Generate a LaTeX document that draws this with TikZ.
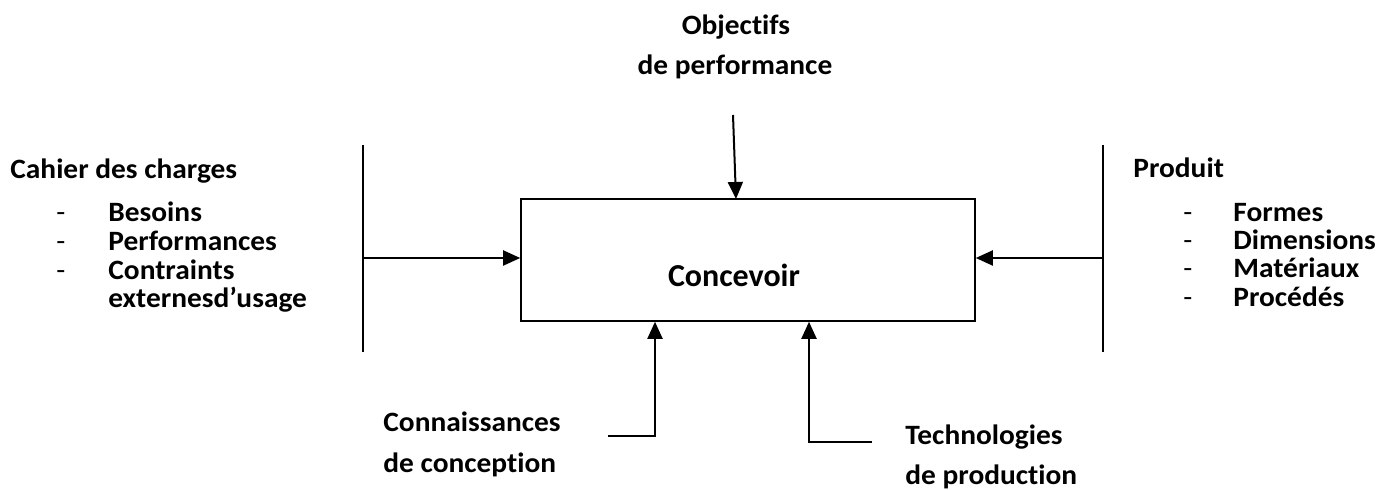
\documentclass[tikz,border=0pt]{standalone}
\usepackage{fontspec}
\setmainfont[Ligatures={NoCommon,NoContextual}]{Carlito}
\newfontfamily\lblfont[FakeStretch=1.05,Ligatures={NoCommon,NoContextual}]{Carlito}
\usetikzlibrary{arrows.meta}

\tikzset{
  lbl/.style={font=\lblfont\fontsize{14}{16}\selectfont\bfseries, inner sep=0pt},
  dashmark/.style={font=\lblfont\fontsize{14}{16}\selectfont, inner sep=0pt},
  flow/.style={line width=1pt, -{Triangle[length=8.5pt,width=7.5pt]}},
  rail/.style={line width=0.8pt}
}

\begin{document}
\begin{tikzpicture}[x=0.5pt,y=-0.5pt]

    % Fix the page to the size of the reference
    \useasboundingbox (0,0) rectangle (1376,490);

    % The activity box
    \node[draw, line width=0.8pt, minimum width=227pt, minimum height=61pt, inner sep=0pt] (box) at (748,260) {};
    \node[anchor=base, inner sep=0pt, font=\fontsize{16}{18}\selectfont\bfseries] (conc) at (734,287) {Concevoir};

    % Control from the top
    \node[lbl, anchor=base] (obj1) at (736,35) {Objectifs};
    \node[lbl, anchor=base] (obj2) at (735,75) {de performance};
    \coordinate (objstart) at (733,115);
    \coordinate (objend) at (736,199);
    \draw[flow] (objstart) -- (objend);

    % Input on the left
    \coordinate (ltop) at (363,145);
    \coordinate (lbot) at (363,352);
    \coordinate (lmid) at (363,258);
    \draw[rail] (ltop) -- (lbot);
    \draw[flow] (lmid) -- (lmid -| box.west);

    \node[lbl, anchor=base west] (cahier) at (10,179) {Cahier des charges};
    \node[lbl, anchor=base west] (besoins) at (108,222) {Besoins};
    \node[lbl, anchor=base west] (perf) at (108,251) {Performances};
    \node[lbl, anchor=base west] (contr) at (108,280) {Contraints};
    \node[lbl, anchor=base west] (ext) at (108,308) {externesd’usage};
    \foreach \y/\n in {222/da, 251/db, 280/dc}
      \node[dashmark, anchor=base west] (\n) at (56,\y) {-};

    % Output on the right
    \coordinate (rtop) at (1103,145);
    \coordinate (rbot) at (1103,352);
    \coordinate (rmid) at (1103,258);
    \draw[rail] (rtop) -- (rbot);
    \draw[flow] (rmid) -- (rmid -| box.east);

    \node[lbl, anchor=base west] (produit) at (1133,178) {Produit};
    \node[lbl, anchor=base west] (formes) at (1233,222) {Formes};
    \node[lbl, anchor=base west] (dims) at (1233,250) {Dimensions};
    \node[lbl, anchor=base west] (mat) at (1233,278) {Matériaux};
    \node[lbl, anchor=base west] (proc) at (1233,307) {Procédés};
    \foreach \y/\n in {222/ra, 250/rb, 278/rc, 307/rd}
      \node[dashmark, anchor=base west] (\n) at (1183,\y) {-};

    % Mechanisms from below
    \coordinate (kstart) at (608,436);
    \coordinate (kcorner) at (655,436);
    \draw[flow] (kstart) -- (kcorner) -- (kcorner |- box.south);
    \node[lbl, anchor=base west] (conn1) at (383,432) {Connaissances};
    \node[lbl, anchor=base west] (conn2) at (383,473) {de conception};

    \coordinate (tstart) at (872,442);
    \coordinate (tcorner) at (809,442);
    \draw[flow] (tstart) -- (tcorner) -- (tcorner |- box.south);
    \node[lbl, anchor=base west] (tech1) at (905,445) {Technologies};
    \node[lbl, anchor=base west] (tech2) at (905,485) {de production};

\end{tikzpicture}
\end{document}
